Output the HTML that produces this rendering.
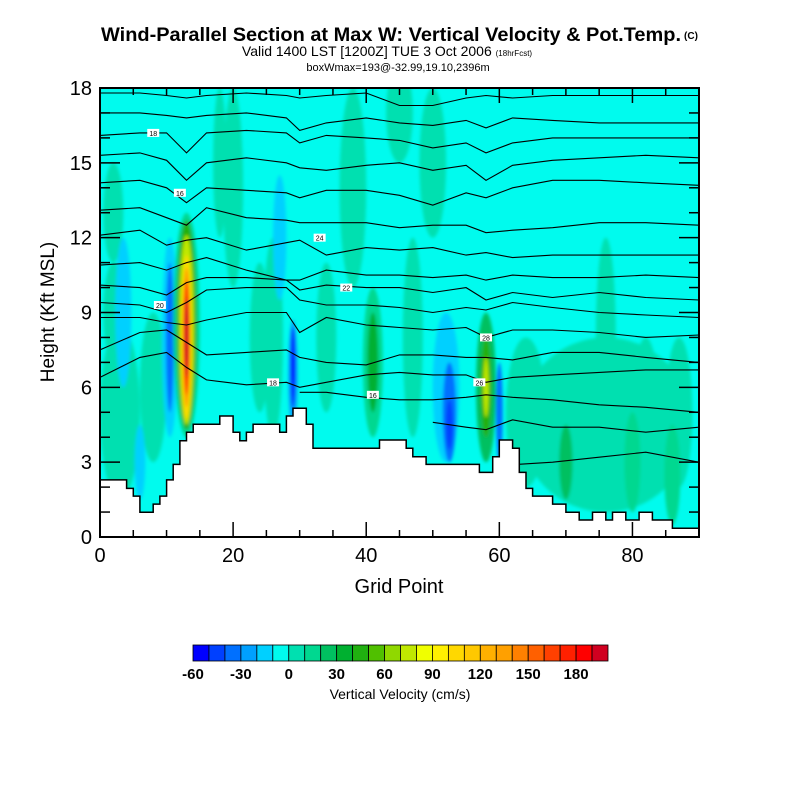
<!DOCTYPE html>
<html><head><meta charset="utf-8"><style>
body{margin:0;background:#fff;}
svg{display:block;font-family:"Liberation Sans",sans-serif;}
</style></head><body>
<svg id="chart" width="800" height="800" viewBox="0 0 800 800" xmlns="http://www.w3.org/2000/svg">
<defs>
<clipPath id="plotclip"><rect x="100" y="88" width="599" height="449"/></clipPath>
<filter id="soft" x="-50%" y="-50%" width="200%" height="200%"><feGaussianBlur stdDeviation="1.6"/></filter>
</defs>
<rect width="800" height="800" fill="#fff"/>
<text x="391" y="41" font-size="19" font-weight="bold" text-anchor="middle" textLength="580" lengthAdjust="spacingAndGlyphs">Wind-Parallel Section at Max W: Vertical Velocity &amp; Pot.Temp.</text>
<text x="691" y="39" font-size="10" font-weight="bold" text-anchor="middle">(C)</text>
<text x="387" y="56" font-size="14" text-anchor="middle">Valid 1400 LST [1200Z] TUE 3 Oct 2006 <tspan font-size="8">(18hrFcst)</tspan></text>
<text x="398" y="71" font-size="11" text-anchor="middle">boxWmax=193@-32.99,19.10,2396m</text>
<g id="plot" clip-path="url(#plotclip)">
<rect x="100" y="88" width="599" height="449" fill="#00fbee"/>
<g id="field" filter="url(#soft)"></g>
<g id="contours"></g>
<g id="terrain"></g>
<g id="clabels"></g>
</g>
<rect x="100" y="88" width="599" height="449" fill="none" stroke="#000" stroke-width="2"/>
<g id="axes"></g>
<text x="399" y="593" font-size="20" text-anchor="middle">Grid Point</text>
<text transform="translate(54,312) rotate(-90)" font-size="19" text-anchor="middle">Height (Kft MSL)</text>
<g id="colorbar"></g>
<text x="400" y="699" font-size="14" text-anchor="middle">Vertical Velocity (cm/s)</text>
</svg>
<script>
// ---- data ----
const colorBins = ["#0000ff","#0040ff","#0070ff","#00a0ff","#00d0ff","#00fbee","#00e0b0","#00d890","#00c060","#00b030","#20b010","#50c000","#90d800","#c0e800","#f0ff00","#fff000","#ffd800","#ffc800","#ffb000","#ffa000","#ff8000","#ff6000","#ff4000","#ff2000","#ff0000","#d00020"];
const colorbarTicks = [-60,-30,0,30,60,90,120,150,180];
const xTicks = [0,20,40,60,80];
const yTicks = [0,3,6,9,12,15,18];
// terrain height (kft) for each grid cell g..g+1
const terrain = [2.29,2.29,2.29,2.29,1.95,1.64,0.99,0.99,1.32,1.64,2.29,2.91,3.86,4.2,4.52,4.52,4.52,4.52,4.85,4.85,4.2,3.86,4.2,4.52,4.52,4.52,4.52,4.2,4.85,5.16,5.16,4.52,3.56,3.56,3.56,3.56,3.56,3.56,3.56,3.56,3.56,3.56,3.89,3.89,3.89,3.89,3.56,3.22,3.22,2.91,2.91,2.91,2.91,2.91,2.91,2.91,2.91,2.59,2.59,3.22,3.89,3.89,3.56,2.59,1.95,1.64,1.64,1.64,1.32,1.32,0.99,0.99,0.68,0.68,0.99,0.99,0.68,0.99,0.99,0.68,0.68,0.99,0.99,0.68,0.68,0.68,0.35,0.35,0.35,0.35];
// vertical velocity features (grid x, height kft, half-width grid, half-height kft, value cm/s)
const featX = [3,8,20,24,34,38,47,50,45,26,18,64,76,76,82,87,2,2,70,80,86,41,41,58,58,58,3.5,6,10.5,10.5,27,52,52.5,52.5,60,29,29,13,13,13,13,13,13,13];
const featY = [5,6,14,8,8,14,8,15,17,8,15,5,4.5,8,5,5,13,9,3,3,2.5,7,7,6,6,6,9,3,8,8,12,6,5,4.5,5,6.5,6.8,8.5,8.5,8.3,8.0,8.0,8.0,8.0];
const featRX = [3,2,1.5,1.5,1.5,2,1.5,2,2,1.5,1,3,13,1.5,2,2,1.5,1.5,1,1.2,1.2,1.5,0.8,1.5,0.8,0.4,1.2,0.8,1.2,0.6,1,2,1,0.5,0.5,0.7,0.35,2.0,1.5,1.1,0.8,0.6,0.45,0.3];
const featRY = [3.5,3,4,3,3,4,4,3,2,4,3,3,3.5,4,3,3,2,2,1.5,2,2,3,2,3,2,1.2,3,1.5,4,3,2.5,3,2,1,2,2.2,1.6,4.5,4.2,3.8,3.3,2.8,2.3,1.6];
const featV = [5,5,5,5,5,5,5,5,5,5,5,5,5,5,5,5,5,5,20,15,15,15,30,20,45,70,-15,-20,-20,-40,-15,-15,-35,-50,-35,-30,-55,15,40,70,100,130,160,190];
// potential temperature contours: heights (kft) at sample grid points
const contourX = [0,6,10,13,16,22,28,30,34,40,45,50,55,58,62,68,75,82,90];
const theta1 = [17.8,17.8,17.7,17.6,17.7,17.8,17.7,17.6,17.7,17.8,17.3,17.3,17.6,17.7,17.6,17.7,17.7,17.7,17.7];
const theta2 = [17.0,17.0,16.9,16.8,16.9,17.0,16.8,16.3,16.6,16.8,16.6,16.5,16.7,16.4,16.8,16.7,16.6,16.6,16.6];
const theta3 = [16.1,16.2,16.2,15.4,16.2,16.3,16.2,15.8,16.1,16.0,15.9,15.6,15.8,15.4,15.8,16.0,16.0,16.0,16.0];
const theta4 = [15.3,15.4,15.1,14.3,15.0,15.2,15.0,14.8,14.7,14.9,15.0,14.7,14.9,14.3,14.9,15.1,15.2,15.3,15.2];
const theta5 = [14.2,14.3,14.0,13.4,14.0,13.9,13.8,13.6,13.9,13.9,13.7,13.3,13.8,13.6,14.0,14.3,14.3,14.2,14.1];
const theta6 = [13.1,13.2,12.8,12.5,13.2,12.8,12.7,12.6,12.6,12.6,12.4,12.5,12.5,12.2,12.3,12.4,12.6,12.6,12.5];
const theta7 = [12.1,12.3,11.7,11.9,12.0,11.5,11.8,11.9,11.3,11.6,11.5,11.6,11.3,11.4,11.2,11.3,11.3,11.3,11.3];
const theta8 = [10.9,11.0,10.7,11.0,11.2,10.7,10.3,10.3,10.7,10.5,10.5,10.4,10.5,10.3,10.5,10.4,10.4,10.5,10.4];
const theta9 = [10.1,10.0,9.7,10.2,10.4,10.4,10.3,9.9,10.1,10.0,10.0,9.8,10.0,9.5,9.8,9.6,9.8,9.6,9.5];
const theta10 = [9.4,9.3,9.0,9.4,9.9,10.0,10.0,9.5,9.3,9.3,9.2,9.0,9.2,9.1,9.4,9.2,9.0,8.9,8.8];
const theta11 = [8.8,8.8,8.6,8.5,8.7,9.0,9.0,8.2,8.8,8.5,8.4,8.3,8.4,8.0,8.3,8.3,8.2,8.0,8.1];
const theta12 = [7.5,8.2,8.3,7.8,7.3,7.4,7.5,7.2,7.0,6.9,7.3,7.3,7.2,7.2,7.1,7.4,7.4,7.2,7.0];
const theta13 = [6.4,7.2,7.4,6.8,6.3,6.1,6.2,6.0,6.2,6.5,6.6,6.5,6.5,6.2,6.4,6.5,6.6,6.7,6.7];
const theta14 = [null,null,null,null,null,null,null,5.8,5.8,5.6,5.5,5.5,5.6,5.7,5.6,5.5,5.3,5.2,5.0];
const theta15 = [null,null,null,null,null,null,null,null,null,null,null,4.6,4.4,4.3,4.7,4.4,4.4,4.2,4.4];
const theta16 = [null,null,null,null,null,null,null,null,null,null,null,null,null,null,2.9,3.0,3.2,3.4,3.0];
const contourLabelText = ["18","16","24","22","20","18","16","28","26"];
const contourLabelX = [8,12,33,37,9,26,41,58,57];
const contourLabelY = [16.2,13.8,12.0,10.0,9.3,6.2,5.7,8.0,6.2];

// ---- scales ----
const X0=100, X1=699, Y0=537, Y1=88;
const xs = g => X0 + (g/90)*(X1-X0);
const ys = h => Y0 - (h/18)*(Y0-Y1);
const colorOf = v => colorBins[Math.max(0,Math.min(colorBins.length-1,Math.floor((v+60)/10)))];
const NS="http://www.w3.org/2000/svg";
function mk(tag, parent){const e=document.createElementNS(NS,tag);parent.appendChild(e);return e;}

// field
const field=document.getElementById('field');
for(let i=0;i<featX.length;i++){
  const e=mk('ellipse',field);
  
  
  e.setAttribute('cx',xs(featX[i]));
  e.setAttribute('cy',ys(featY[i]));
  e.setAttribute('rx',xs(featRX[i])-X0);
  e.setAttribute('ry',Y0-ys(featRY[i]));
  e.setAttribute('fill',colorOf(featV[i]));
}

// contours
const cg=document.getElementById('contours');
const thetas=[theta1,theta2,theta3,theta4,theta5,theta6,theta7,theta8,theta9,theta10,theta11,theta12,theta13,theta14,theta15,theta16];
thetas.forEach(arr=>{
  let d='';let pen=false;
  arr.forEach((h,i)=>{ if(h===null){pen=false;return;} d+=(pen?'L':'M')+xs(contourX[i]).toFixed(1)+','+ys(h).toFixed(1); pen=true;});
  const p=mk('path',cg);
  
  
  p.setAttribute('d',d);p.setAttribute('fill','none');p.setAttribute('stroke','#000');p.setAttribute('stroke-width','1.1');
});

// terrain
const tg=document.getElementById('terrain');
let td='M'+xs(0)+','+ys(0);
terrain.forEach((h,g)=>{ td+='L'+xs(g).toFixed(1)+','+ys(h).toFixed(1)+'L'+xs(g+1).toFixed(1)+','+ys(h).toFixed(1); });
td+='L'+xs(90)+','+ys(0)+'Z';
const tp=mk('path',tg);


tp.setAttribute('d',td);tp.setAttribute('fill','#fff');tp.setAttribute('stroke','#000');tp.setAttribute('stroke-width','1.5');

// contour labels
const lg=document.getElementById('clabels');
contourLabelText.forEach((t,i)=>{
  const r=mk('rect',lg);
  
  
  r.setAttribute('x',xs(contourLabelX[i])-6);r.setAttribute('y',ys(contourLabelY[i])-4);r.setAttribute('width',12);r.setAttribute('height',8);r.setAttribute('fill','#fff');
  const tx=mk('text',lg);
  
  
  tx.setAttribute('x',xs(contourLabelX[i]));tx.setAttribute('y',ys(contourLabelY[i])+3);tx.setAttribute('font-size','7');tx.setAttribute('text-anchor','middle');
  tx.textContent=t;
});

// axes
const ag=document.getElementById('axes');
function line(x1,y1,x2,y2,name){const l=mk('line',ag);l.setAttribute('x1',x1);l.setAttribute('y1',y1);l.setAttribute('x2',x2);l.setAttribute('y2',y2);l.setAttribute('stroke','#000');l.setAttribute('stroke-width','1.5');}
for(let g=0;g<=90;g+=5){
  const major=g%20===0, len=major?15:7, x=xs(g);
  line(x,Y0,x,Y0-len,'x-tick');
  line(x,Y1,x,Y1+len,'x-tick-top');
}
for(let h=0;h<=18;h+=1){
  const major=h%3===0, len=major?20:10, y=ys(h);
  line(X0,y,X0+len,y,'y-tick');
  line(X1,y,X1-len,y,'y-tick-right');
}
xTicks.forEach(v=>{const t=mk('text',ag);t.setAttribute('x',xs(v));t.setAttribute('y',562);t.setAttribute('font-size','20');t.setAttribute('text-anchor','middle');t.textContent=v;});
yTicks.forEach(v=>{const t=mk('text',ag);t.setAttribute('x',92);t.setAttribute('y',ys(v)+7);t.setAttribute('font-size','20');t.setAttribute('text-anchor','end');t.textContent=v;});

// colorbar
const cb=document.getElementById('colorbar');
const CB0=193, CBW=(608-193)/colorBins.length;
colorBins.forEach((c,i)=>{
  const r=mk('rect',cb);
  
  
  r.setAttribute('x',CB0+i*CBW);r.setAttribute('y',645);r.setAttribute('width',CBW);r.setAttribute('height',16);r.setAttribute('fill',c);r.setAttribute('stroke','#000');r.setAttribute('stroke-width','0.8');
});
colorbarTicks.forEach(v=>{
  const t=mk('text',cb);
  
  
  t.setAttribute('x',CB0+((v+60)/10)*CBW);t.setAttribute('y',679);t.setAttribute('font-size','15');t.setAttribute('font-weight','bold');t.setAttribute('text-anchor','middle');
  t.textContent=v;
});
</script>
</body></html>
